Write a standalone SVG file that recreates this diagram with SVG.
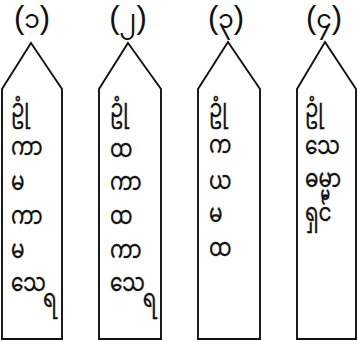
<svg xmlns="http://www.w3.org/2000/svg" width="358" height="341" viewBox="0 0 358 341">
<style>
.box{fill:#fff;stroke:#111;stroke-width:1.9;stroke-linejoin:miter}
.lbl{font-family:'Liberation Sans','Noto Sans Myanmar',sans-serif;font-size:31px;fill:#111;text-anchor:middle}
.dg{font-size:25px}
.my{font-family:'Noto Sans Myanmar','Padauk',sans-serif;font-size:25px;fill:#111;stroke:#111;stroke-width:0.35}
</style>
<rect width="358" height="341" fill="#fff"/>
<g id="connectors"/>
<g id="node1">
<polygon class="box" points="31,43 62,89 62,339 2,339 2,89"/>
<text class="lbl" x="32" y="28">(<tspan class="dg">၁</tspan>)</text>
<g class="my" transform="translate(11,0) scale(0.8,1)">
<text x="0" y="117">ဥုံ</text>
<text x="0" y="155">ကာ</text>
<text x="0" y="190">မ</text>
<text x="0" y="224">ကာ</text>
<text x="0" y="258">မ</text>
<text x="0" y="291">သေ</text>
<text x="40" y="307">ရ</text>
</g>
</g>
<g id="node2">
<polygon class="box" points="128,43 161,89 161,339 99,339 99,89"/>
<text class="lbl" x="128" y="28">(<tspan class="dg">၂</tspan>)</text>
<g class="my" transform="translate(110,0) scale(0.8,1)">
<text x="0" y="117">ဥုံ</text>
<text x="0" y="157">ထ</text>
<text x="0" y="190">ကာ</text>
<text x="0" y="224">ထ</text>
<text x="0" y="258">ကာ</text>
<text x="0" y="291">သေ</text>
<text x="41" y="307">ရ</text>
</g>
</g>
<g id="node3">
<polygon class="box" points="228,42 260,89 260,339 198,339 198,89"/>
<text class="lbl" x="226" y="28">(<tspan class="dg">၃</tspan>)</text>
<g class="my" transform="translate(209,0) scale(0.8,1)">
<text x="0" y="117">ဥုံ</text>
<text x="0" y="153">က</text>
<text x="0" y="189">ယ</text>
<text x="0" y="222">မ</text>
<text x="0" y="256">ထ</text>
</g>
</g>
<g id="node4">
<polygon class="box" points="325,42 356,89 356,339 297,339 297,89"/>
<text class="lbl" x="324" y="28">(<tspan class="dg">၄</tspan>)</text>
<g class="my" transform="translate(305,0) scale(0.8,1)">
<text x="0" y="117">ဥုံ</text>
<text x="0" y="154">သေ</text>
<text x="0" y="187">ဓမ္မာ</text>
<text x="0" y="221">ရှင်</text>
</g>
</g>
</svg>
